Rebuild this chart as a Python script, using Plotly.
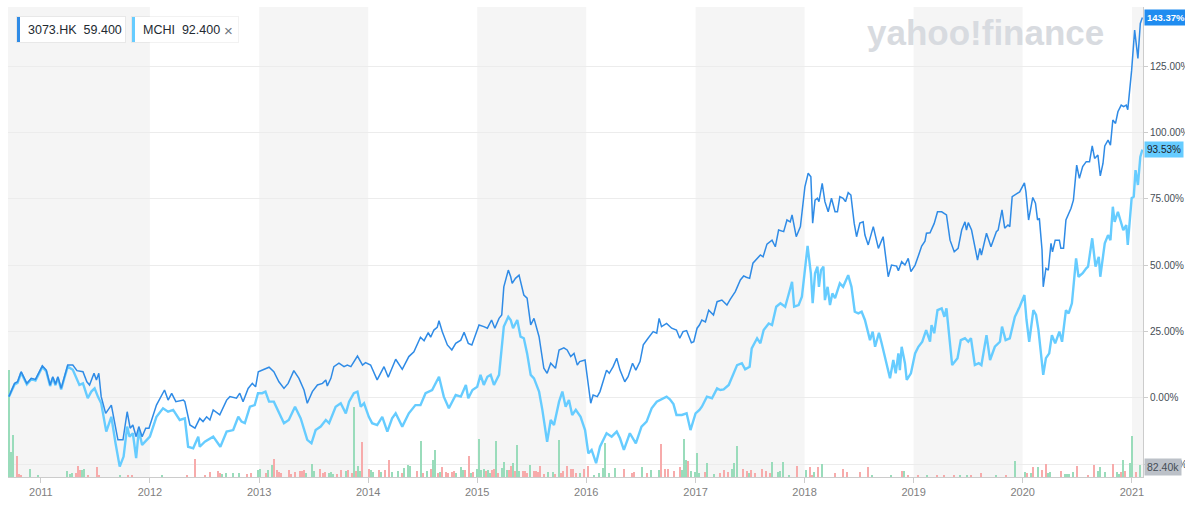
import plotly.graph_objects as go

# ---------------- data ----------------
hk_dates = ["2010-09-16","2010-10-05","2010-10-15","2010-10-27","2010-11-15","2010-11-30","2010-12-14",
"2011-01-06","2011-01-19","2011-02-01","2011-02-10","2011-02-19","2011-02-27","2011-03-10","2011-03-21","2011-04-01","2011-04-18",
"2011-05-02","2011-05-22","2011-06-04","2011-06-13","2011-06-28","2011-07-06","2011-07-14","2011-07-22","2011-08-06","2011-08-25",
"2011-09-10","2011-09-16","2011-10-03","2011-10-17","2011-10-27","2011-11-05","2011-11-16","2011-11-25","2011-12-06","2011-12-18","2011-12-29",
"2012-01-23","2012-02-19","2012-03-02","2012-03-14","2012-03-28","2012-04-22","2012-04-27","2012-05-14","2012-05-31","2012-06-16",
"2012-06-27","2012-07-09","2012-07-20","2012-07-31","2012-08-22","2012-09-14","2012-09-25","2012-10-17","2012-10-28","2012-11-08",
"2012-11-25","2012-12-09","2012-12-20","2012-12-29",
"2013-01-11","2013-01-22","2013-02-03","2013-02-19","2013-03-08","2013-03-25","2013-04-08","2013-04-27","2013-05-14","2013-05-31",
"2013-06-11","2013-06-28","2013-07-15","2013-08-01","2013-08-12","2013-08-17","2013-08-29","2013-09-08","2013-09-25","2013-10-12",
"2013-10-23","2013-11-04","2013-11-26","2013-12-13","2013-12-23",
"2014-01-09","2014-01-31","2014-02-23","2014-03-09","2014-04-03","2014-04-25","2014-05-17","2014-06-03","2014-06-25","2014-07-07",
"2014-07-21","2014-07-29","2014-08-09","2014-08-20","2014-08-26","2014-09-06","2014-09-23","2014-10-08","2014-10-21","2014-11-07",
"2014-11-18","2014-12-02","2014-12-14","2014-12-27",
"2015-01-07","2015-01-23","2015-02-04","2015-02-18","2015-03-01","2015-03-15","2015-03-24","2015-03-31","2015-04-15","2015-04-23",
"2015-04-28","2015-05-09","2015-05-21","2015-06-06","2015-06-17","2015-06-29","2015-07-10","2015-07-27","2015-08-12","2015-08-23",
"2015-09-04","2015-09-20","2015-10-02","2015-10-18","2015-10-29","2015-11-10","2015-11-21","2015-12-02","2015-12-10","2015-12-28",
"2016-01-08","2016-01-16","2016-01-24","2016-02-07","2016-02-16","2016-03-09","2016-03-18","2016-03-31","2016-04-12","2016-04-23",
"2016-05-09","2016-05-20","2016-06-04","2016-06-15","2016-06-29","2016-07-10","2016-07-26","2016-08-12","2016-08-24","2016-09-01",
"2016-09-09","2016-09-26","2016-10-13","2016-10-29","2016-11-09","2016-11-20","2016-12-02","2016-12-18","2016-12-26",
"2017-01-06","2017-01-14","2017-01-22","2017-02-03","2017-02-14","2017-03-02","2017-03-14","2017-03-30","2017-04-16","2017-04-27",
"2017-05-14","2017-05-31","2017-06-11","2017-06-20","2017-07-01","2017-07-12","2017-07-26","2017-08-06","2017-08-15","2017-08-28",
"2017-09-14","2017-09-25","2017-10-06","2017-10-23","2017-11-03","2017-11-14","2017-11-20","2017-12-04","2017-12-18","2017-12-29",
"2018-01-02","2018-01-13","2018-01-22","2018-01-28","2018-02-05","2018-02-13","2018-02-18","2018-03-01","2018-03-10","2018-03-21",
"2018-04-01","2018-04-13","2018-04-21","2018-04-29","2018-05-10","2018-05-18","2018-05-27","2018-06-05","2018-06-16","2018-06-24",
"2018-07-05","2018-07-16","2018-07-22","2018-08-02","2018-08-19","2018-09-05","2018-09-21","2018-10-03","2018-10-08","2018-10-19",
"2018-11-05","2018-11-11","2018-11-22","2018-12-03","2018-12-14","2018-12-23",
"2019-01-06","2019-01-17","2019-01-28","2019-02-08","2019-02-13","2019-02-25","2019-03-11","2019-03-22","2019-04-05","2019-04-21",
"2019-05-03","2019-05-17","2019-05-30","2019-06-11","2019-06-22","2019-06-27","2019-07-03","2019-07-14","2019-07-25","2019-08-03",
"2019-08-11","2019-08-16","2019-09-02","2019-09-17","2019-10-05","2019-10-11","2019-10-24","2019-11-02","2019-11-13","2019-11-19",
"2019-11-27","2019-12-11","2019-12-22",
"2020-01-07","2020-01-12","2020-01-21","2020-02-04","2020-02-13","2020-02-20","2020-02-26","2020-03-06","2020-03-10","2020-03-19",
"2020-03-27","2020-04-05","2020-04-10","2020-04-19","2020-05-03","2020-05-08","2020-05-17","2020-05-25","2020-06-11","2020-06-19",
"2020-06-30","2020-07-09","2020-07-20","2020-08-01","2020-08-12","2020-08-21","2020-08-29","2020-09-09","2020-09-17","2020-09-26",
"2020-10-02","2020-10-13","2020-10-21","2020-10-29","2020-11-07","2020-11-15","2020-11-26","2020-12-04","2020-12-13","2020-12-18",
"2020-12-31","2021-01-10","2021-01-21","2021-01-29","2021-02-05"]
hk_pct = [0.4,5.4,6.0,9.8,5.4,7.3,6.9,
12.0,10.4,4.8,7.9,5.1,7.9,3.5,7.9,12.3,12.3,
10.2,9.8,6.0,4.8,9.2,6.7,9.2,0.4,-5.9,-2.8,
-12.2,-15.9,-15.9,-5.3,-11.5,-10.3,-14.7,-10.9,-14.7,-11.5,-11.5,
-2.8,2.9,-0.9,1.6,-1.5,-0.9,-1.5,-10.3,-11.5,-7.8,
-9.0,-7.2,-8.4,-4.6,-6.5,-0.9,0.4,-0.2,1.7,-1.5,
3.5,5.4,4.1,9.8,
10.4,11.1,11.5,9.8,6.0,3.5,5.4,10.2,7.3,2.9,
-2.1,2.3,4.8,5.4,6.7,4.4,7.3,11.7,13.0,11.7,
12.3,11.7,15.7,12.3,13.2,
12.3,6.7,11.7,7.7,14.5,10.7,15.5,17.3,22.8,21.5,
24.5,22.8,25.5,26.5,29.0,24.9,19.9,18.0,20.5,21.7,
24.7,20.5,19.9,23.6,
27.4,26.8,26.2,29.3,26.2,29.9,31.2,41.8,48.1,45.6,
43.1,45.0,46.2,38.7,37.5,27.4,29.9,23.0,11.1,9.2,
13.0,11.1,18.0,18.8,18.0,15.5,16.7,12.3,13.6,14.2,
5.4,-2.1,1.0,0.4,2.3,10.4,9.2,11.7,14.9,10.4,
6.0,7.9,13.0,10.4,13.6,19.9,22.4,24.9,24.3,29.9,
26.8,28.0,26.2,25.5,22.4,24.9,25.3,20.7,21.1,
26.2,27.4,29.3,28.6,33.0,31.2,36.2,36.8,34.9,37.1,
40.0,44.4,45.9,45.4,45.0,50.7,52.5,53.8,53.1,57.9,
59.4,56.9,63.2,62.6,67.0,66.3,68.9,60.7,64.5,73.9,
79.5,84.6,83.3,65.8,74.5,75.2,73.9,80.8,73.9,70.1,
75.2,70.1,70.1,75.8,75.2,73.9,77.3,76.4,65.8,60.7,
65.8,66.3,61.3,57.6,64.5,56.3,60.7,50.0,45.6,50.0,
49.6,47.9,51.3,50.0,52.5,47.5,
50.0,53.5,57.2,59.0,62.0,62.2,65.7,70.1,70.1,68.9,
59.4,55.0,56.3,63.2,66.3,63.2,66.0,63.2,56.3,51.9,
56.3,53.8,62.0,56.9,62.6,63.2,70.8,63.9,65.1,64.5,
75.8,77.0,77.6,
81.0,77.6,67.0,75.5,73.3,67.0,67.6,55.7,41.8,48.8,
48.1,58.2,55.0,59.4,59.4,56.3,56.3,67.0,71.4,74.5,
87.7,82.7,87.1,89.0,89.0,94.9,90.2,91.5,83.6,88.3,
94.9,97.1,95.2,104.7,103.4,107.8,110.3,109.7,110.3,108.6,
123.5,138.6,127.9,141.1,143.37]

mchi_dates = ["2010-09-16","2010-10-05","2010-10-15","2010-10-27","2010-11-15","2010-11-30","2010-12-14",
"2011-01-06","2011-01-19","2011-02-01","2011-02-10","2011-02-19","2011-02-27","2011-03-10","2011-03-21","2011-04-01","2011-04-18",
"2011-05-10","2011-05-22","2011-06-07","2011-06-19","2011-06-30","2011-07-11","2011-07-22","2011-08-08","2011-08-25","2011-09-08",
"2011-09-22","2011-10-05","2011-10-17","2011-10-25","2011-11-05","2011-11-16","2011-11-25","2011-12-06","2011-12-20",
"2012-01-01","2012-01-23","2012-02-14","2012-03-02","2012-03-19","2012-04-10","2012-04-27","2012-05-08","2012-05-25","2012-06-11",
"2012-06-16","2012-07-03","2012-07-31","2012-08-24","2012-09-14","2012-10-06","2012-10-23","2012-11-03","2012-11-14","2012-12-01",
"2012-12-17","2012-12-28",
"2013-01-11","2013-01-22","2013-02-03","2013-02-19","2013-03-08","2013-03-25","2013-04-10","2013-05-01","2013-05-20","2013-06-11",
"2013-06-25","2013-07-09","2013-07-26","2013-08-12","2013-08-23","2013-09-14","2013-10-01","2013-10-18","2013-10-29","2013-11-14",
"2013-11-26","2013-12-07","2013-12-18",
"2014-01-03","2014-01-14","2014-01-31","2014-02-17","2014-03-06","2014-03-22","2014-04-03","2014-04-25","2014-05-17","2014-06-08",
"2014-06-25","2014-07-12","2014-08-03","2014-08-26","2014-09-11","2014-09-28","2014-10-21","2014-11-07","2014-11-24","2014-12-02",
"2014-12-16",
"2015-01-01","2015-01-12","2015-01-23","2015-02-04","2015-02-15","2015-02-26","2015-03-15","2015-03-31","2015-04-15","2015-04-23",
"2015-05-01","2015-05-15","2015-05-26","2015-06-06","2015-06-17","2015-06-29","2015-07-10","2015-07-27","2015-08-07","2015-08-23",
"2015-09-04","2015-09-15","2015-10-02","2015-10-13","2015-10-24","2015-11-04","2015-11-15","2015-11-27","2015-12-13","2015-12-28",
"2016-01-08","2016-01-19","2016-02-03","2016-02-16","2016-03-09","2016-03-26","2016-04-12","2016-04-23","2016-05-06","2016-05-26",
"2016-06-15","2016-07-04","2016-07-21","2016-08-07","2016-08-24","2016-09-09","2016-09-26","2016-10-07","2016-10-19","2016-10-29",
"2016-11-16","2016-12-02","2016-12-15",
"2017-01-01","2017-01-14","2017-01-22","2017-02-08","2017-02-25","2017-03-14","2017-03-25","2017-04-05","2017-04-22","2017-05-03",
"2017-05-20","2017-06-05","2017-06-16","2017-07-01","2017-07-08","2017-07-26","2017-08-06","2017-08-17","2017-09-03","2017-09-14",
"2017-09-28","2017-10-12","2017-10-28","2017-11-08","2017-11-20","2017-11-27","2017-12-12","2017-12-23","2017-12-31",
"2018-01-11","2018-01-22","2018-01-28","2018-02-05","2018-02-13","2018-02-18","2018-02-25","2018-03-05","2018-03-10","2018-03-19",
"2018-03-27","2018-04-04","2018-04-13","2018-04-29","2018-05-10","2018-05-27","2018-06-07","2018-06-18","2018-06-30","2018-07-11",
"2018-07-22","2018-08-08","2018-08-17","2018-08-25","2018-09-07","2018-09-16","2018-09-27","2018-10-14","2018-10-25","2018-11-02",
"2018-11-11","2018-11-16","2018-11-22","2018-12-03","2018-12-09","2018-12-23",
"2019-01-06","2019-01-17","2019-01-30","2019-02-12","2019-02-25","2019-03-02","2019-03-11","2019-03-22","2019-04-05","2019-04-14",
"2019-04-21","2019-05-10","2019-05-28","2019-06-08","2019-06-22","2019-07-03","2019-07-12","2019-07-25","2019-08-07","2019-08-16",
"2019-09-02","2019-09-14","2019-09-30","2019-10-17","2019-10-24","2019-11-05","2019-11-19","2019-12-06","2019-12-22",
"2020-01-07","2020-01-14","2020-01-23","2020-02-06","2020-02-15","2020-02-23","2020-03-02","2020-03-10","2020-03-19","2020-03-30",
"2020-04-08","2020-04-19","2020-05-03","2020-05-12","2020-05-25","2020-06-03","2020-06-14","2020-06-28","2020-07-06","2020-07-20",
"2020-08-01","2020-08-07","2020-08-21","2020-09-01","2020-09-12","2020-09-17","2020-10-02","2020-10-13","2020-10-21","2020-10-29",
"2020-11-04","2020-11-15","2020-12-03","2020-12-13","2020-12-18","2020-12-31","2021-01-07","2021-01-13","2021-01-21","2021-01-29",
"2021-02-05"]
mchi_pct = [0.4,5.0,5.6,9.4,5.0,7.0,6.5,
11.6,10.0,4.4,7.5,4.7,7.5,3.1,7.5,11.7,10.5,
4.8,5.4,-0.2,2.3,3.5,0.4,-2.1,-12.8,-7.2,-17.2,
-26.0,-22.2,-10.9,-14.7,-13.4,-22.8,-12.2,-17.8,-15.9,
-14.7,-7.2,-4.0,-5.3,-4.6,-8.4,-7.8,-18.5,-19.1,-14.7,
-18.5,-16.6,-14.7,-18.5,-12.8,-12.2,-7.2,-9.0,-9.6,-3.4,
-2.8,1.7,
1.7,2.3,-1.5,-1.5,-5.9,-9.6,-8.4,-3.4,-7.8,-15.9,
-17.2,-12.2,-10.9,-8.4,-9.6,-3.4,-2.1,-5.9,-1.5,1.7,
2.3,-3.4,-2.1,
-7.2,-9.6,-10.3,-7.2,-12.8,-7.8,-5.9,-10.9,-5.9,-2.8,
-2.8,1.7,2.9,7.9,0.4,-4.0,1.0,0.4,4.8,-0.2,
2.9,
4.1,8.6,4.8,7.9,8.6,4.8,8.6,26.8,30.5,29.3,
26.2,29.3,23.0,22.4,16.7,8.6,7.3,2.3,-4.6,-16.6,
-8.4,-10.3,-1.5,2.3,-3.4,-0.9,-6.5,-4.6,-7.2,-12.2,
-21.0,-19.7,-24.7,-18.5,-13.4,-14.7,-12.8,-15.3,-19.7,-13.4,
-17.2,-10.9,-9.0,-4.0,-1.5,-0.6,0.4,-0.6,-2.4,-6.5,
-6.5,-5.9,-12.2,
-5.9,-4.6,-3.4,0.4,-0.2,3.5,2.9,3.1,4.8,7.9,
12.3,13.0,10.7,11.7,18.6,22.4,20.5,25.5,28.0,27.4,
34.3,35.6,34.3,38.7,43.7,34.3,34.9,38.1,46.9,
57.2,46.9,35.6,46.9,49.4,41.8,48.1,49.4,36.8,41.8,
34.9,39.3,37.5,43.1,41.8,46.2,41.8,32.4,31.8,32.4,
29.3,21.7,24.9,19.2,24.5,20.5,15.5,7.3,14.2,9.2,
16.7,10.4,19.2,13.0,6.7,9.2,
16.7,19.2,21.1,25.5,21.1,27.4,24.3,33.0,33.7,30.5,
33.7,12.3,14.9,21.7,22.4,21.1,22.4,12.3,13.0,12.3,
23.6,14.2,19.2,21.1,26.8,21.7,22.4,30.5,34.3,
38.7,29.3,21.1,33.0,31.2,25.5,15.5,8.6,14.9,16.7,
23.6,20.5,24.9,21.1,33.0,31.8,35.6,52.5,45.6,46.9,
48.8,49.4,60.1,49.4,53.1,45.6,58.2,61.3,59.4,72.0,
66.3,70.1,63.2,65.1,57.6,75.2,75.8,85.8,80.2,90.8,
93.53]

vol_dates = ["2010-09-17","2010-09-24","2010-10-01","2010-10-15","2010-10-22","2010-10-29","2010-11-26","2010-12-24",
"2011-04-01","2011-04-08","2011-04-15","2011-04-29","2011-05-06","2011-05-13","2011-05-20","2011-05-27","2011-06-10","2011-07-08",
"2011-07-15","2011-09-23","2011-10-21","2011-11-04",
"2012-02-10","2012-05-04","2012-06-01","2012-07-06","2012-07-20","2012-08-17","2012-08-24","2012-08-31","2012-09-14","2012-10-05",
"2012-10-26","2012-11-23","2012-12-07","2012-12-28",
"2013-01-04","2013-01-25","2013-02-01","2013-02-15","2013-02-22","2013-03-01","2013-03-08","2013-03-15","2013-04-12","2013-04-19",
"2013-05-03","2013-05-17","2013-05-24","2013-05-31","2013-06-07","2013-06-28","2013-07-05","2013-07-26","2013-08-02","2013-08-09",
"2013-08-23","2013-08-30","2013-09-06","2013-09-20","2013-10-04","2013-10-18","2013-10-25","2013-11-08","2013-11-15","2013-11-22",
"2013-11-29","2013-12-06","2013-12-13",
"2014-01-03","2014-01-10","2014-01-17","2014-02-07","2014-02-14","2014-02-28","2014-03-14","2014-03-21","2014-04-11","2014-04-25",
"2014-05-02","2014-05-16","2014-05-23","2014-06-13","2014-06-27","2014-07-04","2014-07-18","2014-08-01","2014-08-08","2014-08-15",
"2014-08-22","2014-08-29","2014-09-05","2014-09-19","2014-09-26","2014-10-10","2014-10-17","2014-10-24","2014-11-07","2014-11-14",
"2014-11-21","2014-12-05","2014-12-12","2014-12-19",
"2015-01-02","2015-01-09","2015-01-16","2015-01-23","2015-01-30","2015-02-06","2015-02-13","2015-02-20","2015-02-27","2015-03-06",
"2015-03-13","2015-03-27","2015-04-03","2015-04-10","2015-04-17","2015-04-24","2015-05-01","2015-05-08","2015-05-15","2015-05-22",
"2015-06-05","2015-06-12","2015-06-19","2015-06-26","2015-07-10","2015-07-17","2015-07-24","2015-07-31","2015-08-14","2015-08-28",
"2015-09-11","2015-09-18","2015-10-02","2015-10-09","2015-10-16","2015-10-30","2015-11-13","2015-11-20","2015-11-27","2015-12-11",
"2015-12-24",
"2016-01-08","2016-01-29","2016-02-12","2016-02-26","2016-03-04","2016-03-18","2016-04-08","2016-05-06","2016-06-03","2016-06-10",
"2016-07-08","2016-07-22","2016-08-05","2016-09-02","2016-09-09","2016-09-23","2016-09-30","2016-10-21","2016-11-11","2016-11-18",
"2016-11-25","2016-12-02","2016-12-09","2016-12-16","2016-12-30",
"2017-01-06","2017-01-13","2017-02-03","2017-02-10","2017-03-03","2017-03-24","2017-04-07","2017-04-21","2017-05-05","2017-05-12",
"2017-05-19","2017-06-09","2017-06-23","2017-06-30","2017-07-07","2017-07-21","2017-08-11","2017-08-25","2017-09-08","2017-09-15",
"2017-10-06","2017-10-13","2017-10-20","2017-11-10","2017-12-08",
"2018-01-05","2018-01-19","2018-01-26","2018-02-02","2018-02-16","2018-03-02","2018-04-13","2018-05-11","2018-05-25","2018-07-06",
"2018-08-03","2018-08-17","2018-10-19","2018-11-23","2018-11-30","2018-12-14",
"2019-01-18","2019-02-15","2019-03-22","2019-04-12","2019-05-17","2019-06-07","2019-06-28","2019-07-12","2019-08-16","2019-10-04",
"2019-11-08","2019-12-06",
"2020-01-10","2020-01-17","2020-01-31","2020-02-07","2020-02-21","2020-03-06","2020-03-20","2020-03-27","2020-04-03","2020-05-08",
"2020-05-22","2020-05-29","2020-06-05","2020-06-19","2020-07-03","2020-08-07","2020-08-28","2020-09-11","2020-09-18","2020-10-02",
"2020-10-30","2020-11-13","2020-11-20","2020-11-27","2020-12-04","2020-12-11","2020-12-25","2021-01-01","2021-01-15","2021-01-29"]
vol_k = [735,172,289,144,21,14,55,7,
41,21,27,27,76,48,48,55,14,69,
7,7,7,7,
14,14,124,14,34,41,27,21,27,27,
27,21,27,48,
55,27,48,85,126,48,34,27,48,21,
34,41,41,48,27,89,41,55,27,34,
27,34,21,21,48,41,48,27,481,41,
76,41,240,
55,48,34,48,34,48,117,34,41,27,
62,82,76,41,247,27,41,55,117,185,
27,34,69,34,27,34,41,27,69,48,
48,144,27,34,
55,261,48,55,41,48,27,48,55,247,
27,62,103,48,48,76,96,41,220,41,
41,41,27,82,41,41,34,76,21,34,
34,21,254,27,41,76,55,55,27,27,
55,
76,14,27,62,234,27,62,55,27,34,
69,27,48,48,227,55,55,41,69,48,
261,117,110,41,34,
165,27,34,96,21,27,48,34,55,96,
213,55,41,27,48,27,55,41,27,103,
34,41,103,14,76,
48,69,14,34,69,89,27,55,34,34,
69,14,14,41,41,7,
7,7,7,7,7,7,7,7,27,7,
7,110,
34,27,27,69,69,48,89,27,34,41,
21,21,21,34,76,14,82,41,69,34,
89,34,21,34,117,41,96,282,34,82.4]
vol_up = [1,1,1,0,0,0,1,1,
1,1,1,0,0,0,1,1,0,0,
0,1,0,0,
1,0,0,0,0,0,0,1,1,1,
1,0,0,1,
1,0,1,1,0,0,0,0,0,0,
0,0,0,0,1,1,1,0,0,0,
1,1,1,0,0,1,0,0,1,0,
1,1,0,
0,1,1,0,1,0,0,1,1,0,
1,1,1,0,1,0,1,0,1,1,
0,1,0,0,0,0,0,1,1,1,
0,0,1,0,
1,1,1,1,0,1,1,0,0,1,
0,1,1,1,0,0,1,0,1,1,
0,0,0,1,0,0,0,0,0,1,
1,0,1,0,0,0,0,0,0,1,
0,
0,1,1,1,1,1,1,0,0,0,
1,0,1,1,0,0,0,0,0,1,
1,1,0,1,1,
1,1,0,1,1,0,0,0,1,1,
1,0,0,1,0,0,0,0,0,1,
1,1,1,1,0,
1,0,0,1,0,1,0,0,0,0,
0,1,1,0,1,0,
0,1,0,0,0,1,1,0,0,1,
0,1,
1,0,1,0,1,0,0,1,1,0,
1,1,1,1,0,0,0,1,1,1,
0,1,1,0,1,0,1,1,0,1]

year_ticks = ["2011","2012","2013","2014","2015","2016","2017","2018","2019","2020","2021"]
pct_ticks = [-25, 0, 25, 50, 75, 100, 125]
shaded_years = [("2010-09-01", "2012-01-01"), ("2013-01-01", "2014-01-01"), ("2015-01-01", "2016-01-01"),
                ("2017-01-01", "2018-01-01"), ("2019-01-01", "2020-01-01"), ("2021-01-01", "2021-03-01")]

# ---------------- styling ----------------
W, H = 1185, 508
ML, MR, MT, MB = 8, 42, 7, 31
PW, PH = W - ML - MR, H - MT - MB
C_HK = "#2f8be6"
C_MCHI = "#66ccff"
C_UP = "#9adcbb"
C_DN = "#f7abab"
FONT = "Liberation Sans, Arial, Helvetica, sans-serif"

def px(xp):
    return (xp - ML) / PW

def py(yp):
    return (H - MB - yp) / PH

fig = go.Figure()
fig.add_trace(go.Bar(x=vol_dates, y=vol_k, marker_color=[C_UP if u else C_DN for u in vol_up],
                     marker_line_width=0, width=5 * 24 * 3600 * 1000, yaxis="y", hoverinfo="skip",
                     showlegend=False))
fig.add_trace(go.Scatter(x=mchi_dates, y=mchi_pct, mode="lines", line=dict(color=C_MCHI, width=2.4),
                         yaxis="y2", showlegend=False))
fig.add_trace(go.Scatter(x=hk_dates, y=hk_pct, mode="lines", line=dict(color=C_HK, width=1.5),
                         yaxis="y2", showlegend=False))

shapes = []
for a, b in shaded_years:
    shapes.append(dict(type="rect", xref="x", yref="paper", x0=a, x1=b, y0=0, y1=1,
                       fillcolor="#f5f5f5", line_width=0, layer="below"))
# legend chips
for (x0, x1, col) in [(17, 125, C_HK), (132, 238, C_MCHI)]:
    shapes.append(dict(type="rect", xref="paper", yref="paper", x0=px(x0 - 1), x1=px(x1 + 1),
                       y0=py(43), y1=py(16), fillcolor="rgba(0,0,0,0.05)", line_width=0))
    shapes.append(dict(type="rect", xref="paper", yref="paper", x0=px(x0), x1=px(x1),
                       y0=py(42), y1=py(17), fillcolor="white", line_width=0))
    shapes.append(dict(type="rect", xref="paper", yref="paper", x0=px(x0), x1=px(x0 + 3),
                       y0=py(42), y1=py(17), fillcolor=col, line_width=0))

annotations = [
    dict(text="<b>yahoo!finance</b>", xref="paper", yref="paper", x=px(985), y=py(33),
         xanchor="center", yanchor="middle", showarrow=False,
         font=dict(family=FONT, size=35, color="#d8dbe0")),
    dict(text="3073.HK  59.400", xref="paper", yref="paper", x=px(26), y=py(30), xanchor="left",
         yanchor="middle", showarrow=False, font=dict(family=FONT, size=12.5, color="#232a31")),
    dict(text="MCHI  92.400", xref="paper", yref="paper", x=px(141), y=py(30), xanchor="left",
         yanchor="middle", showarrow=False, font=dict(family=FONT, size=12.5, color="#232a31")),
    dict(text="×", xref="paper", yref="paper", x=px(228), y=py(30), xanchor="center",
         yanchor="middle", showarrow=False, font=dict(family=FONT, size=15, color="#6e7780")),
    dict(text="<b>143.37%</b>", xref="paper", yref="y2", x=1, y=143.37, xanchor="left", yanchor="middle",
         showarrow=False, bgcolor="#1f8cf0", borderpad=2, xshift=1,
         font=dict(family=FONT, size=9.5, color="white")),
    dict(text="93.53%", xref="paper", yref="y2", x=1, y=93.53, xanchor="left", yanchor="middle",
         showarrow=False, bgcolor=C_MCHI, borderpad=2, xshift=1,
         font=dict(family=FONT, size=10, color="#1d2228")),
    dict(text="82.40k", xref="paper", yref="y", x=1, y=vol_k[-1] * 0.85, xanchor="left", yanchor="middle",
         showarrow=False, bgcolor="#bcc1c8", borderpad=2, xshift=1,
         font=dict(family=FONT, size=10.5, color="#464e56")),
]

fig.update_layout(
    template="none",
    width=W, height=H, margin=dict(l=ML, r=MR, t=MT, b=MB, autoexpand=False),
    paper_bgcolor="white", plot_bgcolor="white",
    bargap=0, showlegend=False,
    shapes=shapes, annotations=annotations,
    xaxis=dict(type="date", range=["2010-09-13", "2021-02-07"], automargin=False,
               tickvals=[y + "-01-01" for y in year_ticks], ticktext=year_ticks,
               ticks="outside", ticklen=5, tickcolor="#cccccc", showline=True, linecolor="#cccccc",
               showgrid=False, zeroline=False, tickfont=dict(family=FONT, size=11, color="#808080")),
    yaxis=dict(range=[0, vol_k[-1] * 470 / 12], visible=False, showgrid=False, fixedrange=True,
               automargin=False),
    yaxis2=dict(overlaying="y", side="right", range=[-29.9, 147.3], automargin=False,
                tickvals=pct_ticks, ticktext=["%.2f%%" % v for v in pct_ticks],
                showgrid=True, gridcolor="#ececec", gridwidth=1, zeroline=False,
                ticks="outside", ticklen=4, tickcolor="#cccccc", showline=True, linecolor="#cccccc",
                tickfont=dict(family=FONT, size=10, color="#464e56")),
)

fig.write_html("out.html")
